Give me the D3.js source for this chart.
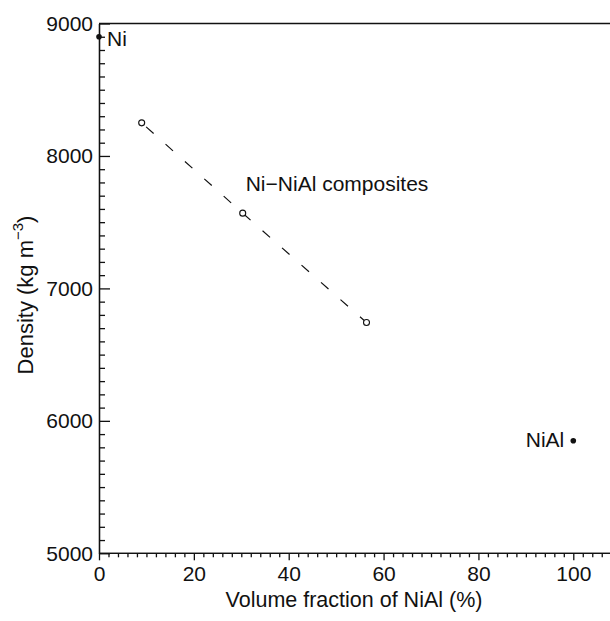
<!DOCTYPE html>
<html>
<head>
<meta charset="utf-8">
<script src="https://cdn.jsdelivr.net/npm/d3@7"></script>
<style>
  html, body { margin: 0; padding: 0; background: #fff; }
  text { font-family: "Liberation Sans", Arial, Helvetica, sans-serif; fill: #111; }
</style>
</head>
<body>
<script>
// ---- data ----
const compositeFraction = [9, 30.3, 56.4];          // % NiAl
const compositeDensity  = [8250, 7568, 6742];       // kg m^-3
const pureLabels   = ["Ni", "NiAl"];
const pureFraction = [0, 100];
const pureDensity  = [8900, 5850];
const xMajorTicks = [0, 20, 40, 60, 80, 100];
const yMajorTicks = [5000, 6000, 7000, 8000, 9000];
const compositeLabel = "Ni\u2212NiAl composites";
const xTitle = "Volume fraction of NiAl (%)";

// ---- layout ----
const W = 610, H = 621;
const svg = d3.select("body").append("svg").attr("width", W).attr("height", H);

const x = d3.scaleLinear().domain([0, 107.74]).range([99, 610]);
const y = d3.scaleLinear().domain([5000, 9000]).range([553.3, 23.5]);

const xMinor = d3.range(0, 107, 2).filter(v => v % 20 !== 0);
const yMinor = d3.range(5000, 9001, 100).filter(v => v % 1000 !== 0);

// frame: top border
svg.append("line")
  .attr("x1", x(0)).attr("x2", W).attr("y1", y(9000)).attr("y2", y(9000))
  .attr("stroke", "#111").attr("stroke-width", 1.3);

// x axis
const gx = svg.append("g").attr("transform", `translate(0,${y(5000)})`);
gx.call(d3.axisBottom(x).tickValues(xMajorTicks).tickSize(7).tickSizeOuter(0).tickPadding(6).tickFormat(d3.format("d")));
gx.append("g").call(d3.axisBottom(x).tickValues(xMinor).tickSize(4).tickSizeOuter(0).tickFormat(""));
gx.selectAll("path.domain").attr("d", `M${x(0)},0H${W}`);

// y axis (ticks pointing inward)
const gy = svg.append("g").attr("transform", `translate(${x(0)},0)`);
gy.call(d3.axisLeft(y).tickValues(yMajorTicks).tickSize(-11).tickSizeOuter(0).tickPadding(6).tickFormat(d3.format("d")));
gy.append("g").call(d3.axisLeft(y).tickValues(yMinor).tickSize(-6).tickSizeOuter(0).tickFormat(""));

svg.selectAll(".domain, .tick line").attr("stroke", "#111").attr("stroke-width", 1.3);
svg.selectAll(".tick text").style("font-size", "21px").attr("fill", "#111")
  .style("font-family", '"Liberation Sans", Arial, sans-serif');

// axis titles
svg.append("text")
  .attr("x", 354).attr("y", 607)
  .attr("text-anchor", "middle").style("font-size", "21.5px")
  .text(xTitle);

const yt = svg.append("text")
  .attr("transform", `translate(33,295) rotate(-90)`)
  .attr("text-anchor", "middle").style("font-size", "22px");
yt.append("tspan").text("Density (kg m");
yt.append("tspan").attr("dy", -10).style("font-size", "15px").text("\u22123");
yt.append("tspan").attr("dy", 10).text(")");

// composites dashed line + open circles
const comp = compositeFraction.map((f, i) => ({ f, d: compositeDensity[i] }));
svg.append("path")
  .datum(comp)
  .attr("d", d3.line().x(p => x(p.f)).y(p => y(p.d)))
  .attr("fill", "none").attr("stroke", "#111").attr("stroke-width", 1.2)
  .attr("stroke-dasharray", "10,16").attr("stroke-dashoffset", -6);
svg.selectAll("circle.comp").data(comp).enter().append("circle")
  .attr("class", "comp")
  .attr("cx", p => x(p.f)).attr("cy", p => y(p.d)).attr("r", 3)
  .attr("fill", "#fff").attr("stroke", "#111").attr("stroke-width", 1.1);

svg.append("text")
  .attr("x", x(compositeFraction[1]) + 3).attr("y", y(compositeDensity[1]) - 22)
  .style("font-size", "21px").text(compositeLabel);

// pure phases: filled dots with labels
const pure = pureLabels.map((l, i) => ({ l, f: pureFraction[i], d: pureDensity[i] }));
svg.selectAll("circle.pure").data(pure).enter().append("circle")
  .attr("class", "pure")
  .attr("cx", p => x(p.f)).attr("cy", p => y(p.d)).attr("r", 2.8)
  .attr("fill", "#111");
svg.selectAll("text.pure").data(pure).enter().append("text")
  .attr("class", "pure")
  .attr("x", p => p.f === 0 ? x(p.f) + 8 : x(p.f) - 9)
  .attr("y", p => y(p.d) + (p.f === 0 ? 9.5 : 6))
  .attr("text-anchor", p => p.f === 0 ? "start" : "end")
  .style("font-size", "21px")
  .text(p => p.l);
</script>
</body>
</html>
